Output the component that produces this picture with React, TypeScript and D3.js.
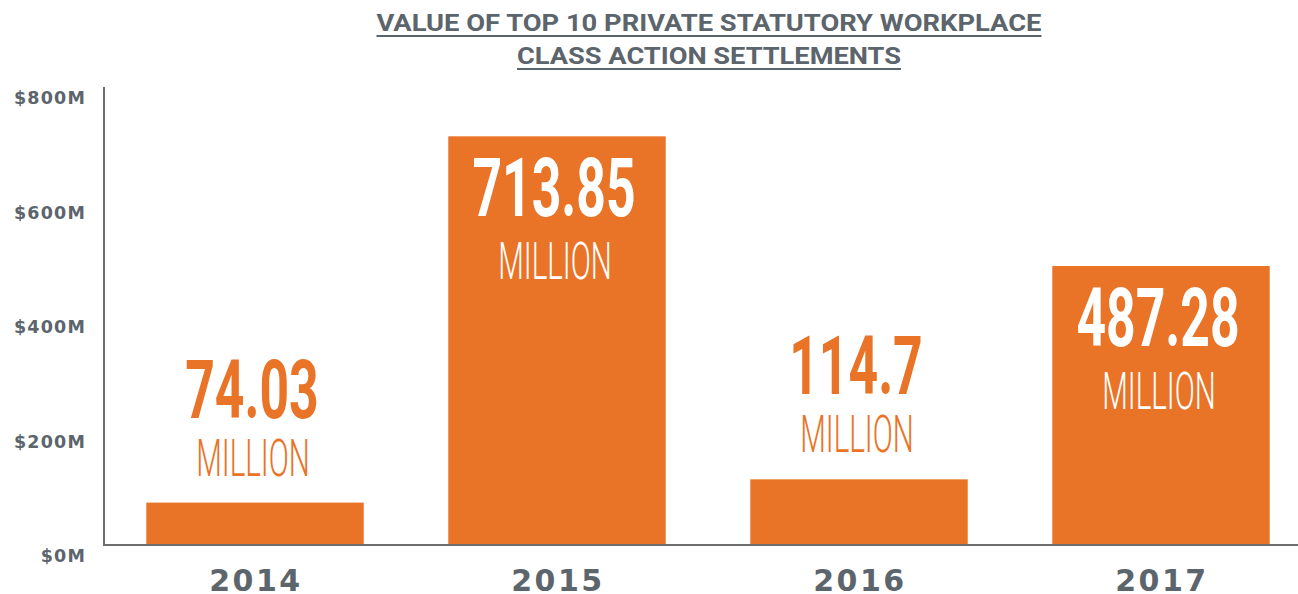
import React from "react";
import * as d3 from "d3";

const years = ["2014", "2015", "2016", "2017"];
const values = [74.03, 713.85, 114.7, 487.28];
const valueLabels = ["74.03", "713.85", "114.7", "487.28"];
const yTicks = [0, 200, 400, 600, 800];
const titleLines = ["VALUE OF TOP 10 PRIVATE STATUTORY WORKPLACE", "CLASS ACTION SETTLEMENTS"];

const W = 1298;
const H = 594;
const ORANGE = "#e97326";
const GRAY = "#5c646c";
const AXIS = "#6e6e6e";

export default function App() {
  const x = d3.scaleBand<string>().domain(years).range([104, 1312]).paddingInner(0.28).paddingOuter(0.14);
  const y = d3.scaleLinear().domain([0, 800]).range([545, 87]);

  const titleWidths = [665, 384];
  const titleBase = [31, 64];

  return (
    <svg width={W} height={H} style={{ position: "absolute", left: 0, top: 0, background: "#fff" }}>
      {/* title */}
      {titleLines.map((t, i) => (
        <g key={t}>
          <text
            x={W / 2 + 60}
            y={titleBase[i]}
            textAnchor="middle"
            fontFamily="Roboto, sans-serif"
            fontWeight={700}
            fontSize={23.5}
            fill={GRAY}
            textLength={titleWidths[i]}
            lengthAdjust="spacingAndGlyphs"
          >
            {t}
          </text>
          <line
            x1={W / 2 + 60 - titleWidths[i] / 2}
            x2={W / 2 + 60 + titleWidths[i] / 2}
            y1={titleBase[i] + 5}
            y2={titleBase[i] + 5}
            stroke={GRAY}
            strokeWidth={2}
          />
        </g>
      ))}

      {/* y tick labels */}
      {yTicks.map((v) => (
        <text
          key={v}
          x={86}
          y={y(v) + 17}
          textAnchor="end"
          fontFamily="'DejaVu Sans', sans-serif"
          fontWeight={700}
          fontSize={17.5}
          letterSpacing={1.2}
          fill={GRAY}
        >
          {`$${v}M`}
        </text>
      ))}

      {/* bars */}
      {years.map((yr, i) => (
        <rect key={yr} x={x(yr)} y={y(values[i])} width={x.bandwidth()} height={y(0) - y(values[i])} fill={ORANGE} />
      ))}

      {/* axes */}
      <line x1={104} x2={104} y1={87} y2={546} stroke={AXIS} strokeWidth={2} />
      <line x1={103} x2={W} y1={545} y2={545} stroke={AXIS} strokeWidth={2} />

      {/* value labels */}
      {years.map((yr, i) => {
        const cx = (x(yr) as number) + x.bandwidth() / 2;
        const top = y(values[i]);
        const inside = y(0) - top > 200;
        const milBase = inside ? top + 80 + 63 : top - 27;
        const valBase = inside ? top + 80 : milBase - 58;
        const col = inside ? "#ffffff" : ORANGE;
        return (
          <g key={yr}>
            <g transform={`translate(${cx - 3},${valBase}) scale(0.63,1)`}>
              <text textAnchor="middle" fontFamily="Roboto, sans-serif" fontWeight={700} fontSize={82} fill={col}>
                {valueLabels[i]}
              </text>
            </g>
            <g transform={`translate(${cx - 2},${milBase}) scale(0.58,1)`}>
              <text textAnchor="middle" fontFamily="Roboto, sans-serif" fontWeight={300} fontSize={51} fill={col}>
                MILLION
              </text>
            </g>
          </g>
        );
      })}

      {/* year labels */}
      {years.map((yr) => (
        <text
          key={yr}
          x={(x(yr) as number) + x.bandwidth() / 2 + 1}
          y={591}
          textAnchor="middle"
          fontFamily="'DejaVu Sans', sans-serif"
          fontWeight={700}
          fontSize={30}
          letterSpacing={2.5}
          fill={GRAY}
        >
          {yr}
        </text>
      ))}
    </svg>
  );
}
